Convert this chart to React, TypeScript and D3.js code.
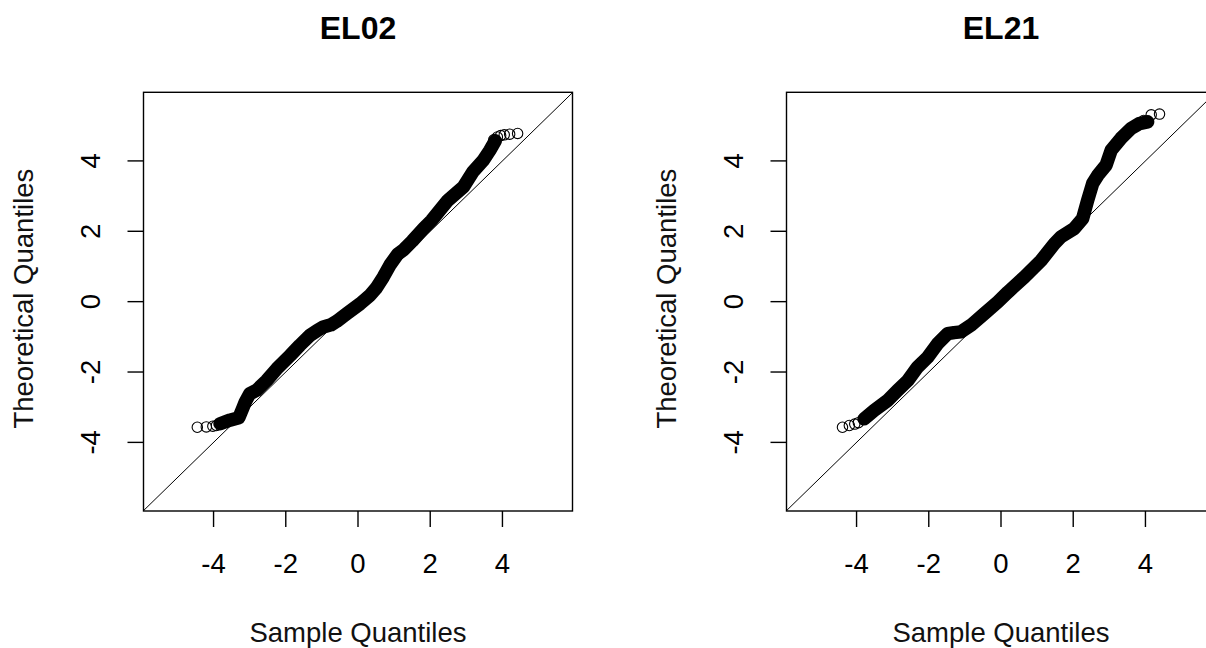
import React, { useEffect, useRef } from "react";
import * as d3 from "d3";

const tickValues = [-4, -2, 0, 2, 4];
const xDomain: [number, number] = [-5.94, 5.94];
const yDomain: [number, number] = [-5.95, 5.95];

// EL02: dense part of the qq cloud
const el02Sample = [
  -3.82, -3.55, -3.3, -3.2, -3.12, -3.0, -2.81, -2.53, -2.25, -1.88, -1.61, -1.33, -1.1, -0.96, -0.75,
  -0.59, -0.31, 0.06, 0.33, 0.5, 0.7, 0.89, 1.1, 1.27, 1.5, 1.81, 2.04, 2.49, 2.92, 3.19, 3.47, 3.65, 3.8,
];
const el02Theoretical = [
  -3.47, -3.37, -3.3, -3.05, -2.85, -2.62, -2.52, -2.24, -1.91, -1.53, -1.24, -0.96, -0.8, -0.72, -0.66,
  -0.56, -0.34, -0.06, 0.18, 0.38, 0.7, 1.05, 1.35, 1.48, 1.72, 2.07, 2.31, 2.88, 3.26, 3.7, 4.02, 4.3, 4.57,
];
// EL02: sparse tail points
const el02TailSample = [-4.45, -4.2, -4.02, -3.92, 3.76, 3.86, 3.95, 4.05, 4.2, 4.42];
const el02TailTheoretical = [-3.57, -3.56, -3.54, -3.52, 4.6, 4.68, 4.72, 4.74, 4.76, 4.78];

// EL21: dense part
const el21Sample = [
  -3.79, -3.51, -3.14, -2.86, -2.58, -2.31, -2.03, -1.75, -1.48, -1.3, -1.11, -0.83, -0.46, -0.09, 0.19,
  0.65, 1.11, 1.48, 1.66, 2.03, 2.26, 2.4, 2.54, 2.68, 2.91, 3.05, 3.32, 3.6, 3.83, 4.06,
];
const el21Theoretical = [
  -3.33, -3.09, -2.81, -2.52, -2.24, -1.86, -1.58, -1.19, -0.91, -0.88, -0.86, -0.67, -0.34, -0.01, 0.27,
  0.7, 1.17, 1.65, 1.84, 2.08, 2.36, 2.88, 3.36, 3.59, 3.88, 4.3, 4.64, 4.92, 5.06, 5.11,
];
// EL21: sparse tail points
const el21TailSample = [-4.39, -4.2, -4.05, -3.95, 3.95, 4.16, 4.39];
const el21TailTheoretical = [-3.57, -3.52, -3.48, -3.44, 5.15, 5.31, 5.33];

const panels = [
  {
    title: "EL02",
    sample: el02Sample,
    theoretical: el02Theoretical,
    tailSample: el02TailSample,
    tailTheoretical: el02TailTheoretical,
    left: 143.5,
  },
  {
    title: "EL21",
    sample: el21Sample,
    theoretical: el21Theoretical,
    tailSample: el21TailSample,
    tailTheoretical: el21TailTheoretical,
    left: 786.5,
  },
];

const font = "'Liberation Sans', Arial, sans-serif";

function App() {
  const ref = useRef<SVGSVGElement>(null);

  useEffect(() => {
    const svg = d3.select(ref.current);
    svg.selectAll("*").remove();

    const boxW = 429,
      top = 92.3,
      bottom = 511;

    panels.forEach((p, i) => {
      const x = d3.scaleLinear().domain(xDomain).range([p.left, p.left + boxW]);
      const y = d3.scaleLinear().domain(yDomain).range([bottom, top]);
      const g = svg.append("g");

      g.append("clipPath")
        .attr("id", `clip${i}`)
        .append("rect")
        .attr("x", p.left)
        .attr("y", top)
        .attr("width", boxW)
        .attr("height", bottom - top);

      const plot = g.append("g").attr("clip-path", `url(#clip${i})`);

      const pts = p.sample.map((s, k) => [s, p.theoretical[k]] as [number, number]);
      const line = d3
        .line<[number, number]>()
        .x((d) => x(d[0]))
        .y((d) => y(d[1]));

      // dense run of overlapping circles -> solid band
      plot
        .append("path")
        .attr("d", line(pts))
        .attr("fill", "none")
        .attr("stroke", "#000")
        .attr("stroke-width", 13.5)
        .attr("stroke-linecap", "round")
        .attr("stroke-linejoin", "round");

      plot
        .selectAll("circle.tail")
        .data(p.tailSample.map((s, k) => [s, p.tailTheoretical[k]]))
        .enter()
        .append("circle")
        .attr("cx", (d) => x(d[0]))
        .attr("cy", (d) => y(d[1]))
        .attr("r", 5.2)
        .attr("fill", "none")
        .attr("stroke", "#000")
        .attr("stroke-width", 1.1);

      // y = x reference line
      plot
        .append("line")
        .attr("x1", x(xDomain[0]))
        .attr("y1", y(xDomain[0]))
        .attr("x2", x(xDomain[1]))
        .attr("y2", y(xDomain[1]))
        .attr("stroke", "#000")
        .attr("stroke-width", 1);

      g.append("rect")
        .attr("x", p.left)
        .attr("y", top)
        .attr("width", boxW)
        .attr("height", bottom - top)
        .attr("fill", "none")
        .attr("stroke", "#000")
        .attr("stroke-width", 1.4);

      // x axis
      tickValues.forEach((v) => {
        g.append("line")
          .attr("x1", x(v))
          .attr("x2", x(v))
          .attr("y1", bottom)
          .attr("y2", bottom + 16)
          .attr("stroke", "#000")
          .attr("stroke-width", 1.4);
        g.append("text")
          .attr("x", x(v))
          .attr("y", 572.5)
          .attr("text-anchor", "middle")
          .attr("font-size", 27.5)
          .attr("font-family", font)
          .text(v);
      });

      // y axis
      tickValues.forEach((v) => {
        g.append("line")
          .attr("x1", p.left - 16)
          .attr("x2", p.left)
          .attr("y1", y(v))
          .attr("y2", y(v))
          .attr("stroke", "#000")
          .attr("stroke-width", 1.4);
        g.append("text")
          .attr("transform", `translate(${p.left - 43.5},${y(v)}) rotate(-90)`)
          .attr("text-anchor", "middle")
          .attr("font-size", 27.5)
          .attr("font-family", font)
          .text(v);
      });

      const cx = p.left + boxW / 2;
      g.append("text")
        .attr("x", cx)
        .attr("y", 39)
        .attr("text-anchor", "middle")
        .attr("font-size", 32)
        .attr("font-weight", "bold")
        .attr("font-family", font)
        .text(p.title);

      g.append("text")
        .attr("x", cx)
        .attr("y", 642)
        .attr("text-anchor", "middle")
        .attr("font-size", 27.5)
        .attr("font-family", font)
        .attr("fill", "#111")
        .text("Sample Quantiles");

      g.append("text")
        .attr("transform", `translate(${p.left - 110.5},${(top + bottom) / 2 - 3}) rotate(-90)`)
        .attr("text-anchor", "middle")
        .attr("font-size", 27.5)
        .attr("font-family", font)
        .attr("fill", "#111")
        .text("Theoretical Quantiles");
    });
  }, []);

  return (
    <svg
      ref={ref}
      width={1206}
      height={648}
      style={{ position: "absolute", left: 0, top: 0, background: "#fff" }}
    />
  );
}

export default App;
